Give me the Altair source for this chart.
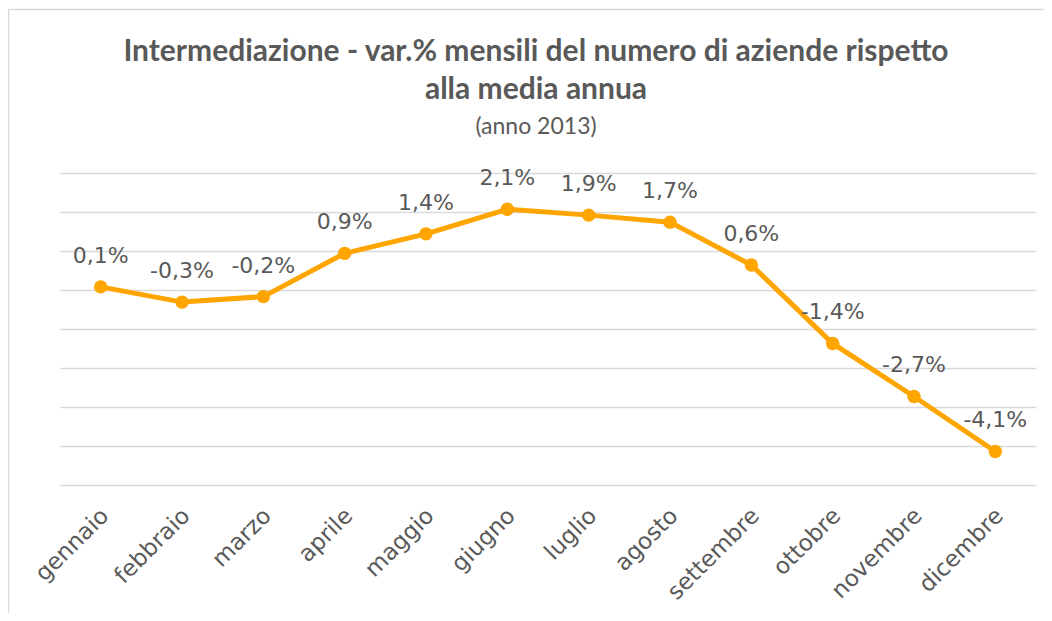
import altair as alt
import pandas as pd

months = ["gennaio", "febbraio", "marzo", "aprile", "maggio", "giugno",
          "luglio", "agosto", "settembre", "ottobre", "novembre", "dicembre"]
values = [0.08, -0.31, -0.17, 0.94, 1.44, 2.07, 1.92, 1.74, 0.64, -1.37, -2.73, -4.14]
labels = ["0,1%", "-0,3%", "-0,2%", "0,9%", "1,4%", "2,1%",
          "1,9%", "1,7%", "0,6%", "-1,4%", "-2,7%", "-4,1%"]
grid_values = [-5, -4, -3, -2, -1, 0, 1, 2, 3]

df = pd.DataFrame({"mese": months, "valore": values, "etichetta": labels})

W, H = 976, 312
GREY = "#595959"
ORANGE = "#FFA500"

x = alt.X("mese:N", sort=months, title=None,
          scale=alt.Scale(paddingInner=0, paddingOuter=0),
          axis=alt.Axis(labelAngle=-45, labelAlign="right", labelBaseline="top",
                        labelFont="DejaVu Sans", labelFontSize=23, labelColor=GREY,
                        labelPadding=19, labelOffset=-4, ticks=False, domain=False,
                        grid=False))
y = alt.Y("valore:Q", title=None,
          scale=alt.Scale(domain=[-5, 3], nice=False, zero=False),
          axis=alt.Axis(values=grid_values, labels=False, ticks=False, domain=False,
                        grid=True, gridColor="#d9d9d9", gridWidth=1.5))

base = alt.Chart(df).encode(x=x, y=y)

line = base.mark_line(color=ORANGE, strokeWidth=5)
points = base.mark_point(filled=True, color=ORANGE, size=180, opacity=1)
text = base.mark_text(font="DejaVu Sans", fontSize=22, color=GREY, dy=-24,
                      baseline="alphabetic", align="center").encode(text="etichetta:N")

frame = pd.DataFrame({"k": [0]})
left_border = alt.Chart(frame).mark_rule(color="#d9d9d9", strokeWidth=1.5).encode(
    x=alt.value(-51.5), y=alt.value(-163.5), y2=alt.value(H + 140))
top_border = alt.Chart(frame).mark_rule(color="#d9d9d9", strokeWidth=1.5).encode(
    x=alt.value(-52), x2=alt.value(W + 10), y=alt.value(-163.5))

chart = alt.layer(left_border, top_border, line, points, text).properties(
    width=W, height=H,
    padding={"left": 52, "top": 165, "right": 8, "bottom": 128},
    autosize=alt.AutoSizeParams(type="none"),
    title=alt.TitleParams(
        text=["Intermediazione - var.% mensili del numero di aziende rispetto",
              "alla media annua"],
        subtitle="(anno 2013)",
        font="Lato", fontSize=30, fontWeight="bold", color=GREY, lineHeight=38,
        subtitleFont="Lato", subtitleFontSize=23, subtitleColor=GREY,
        subtitlePadding=11, anchor="middle", dx=-12, offset=-130),
).configure_view(stroke=None)

chart.save("out.html", embed_options={"renderer": "svg", "actions": False})
